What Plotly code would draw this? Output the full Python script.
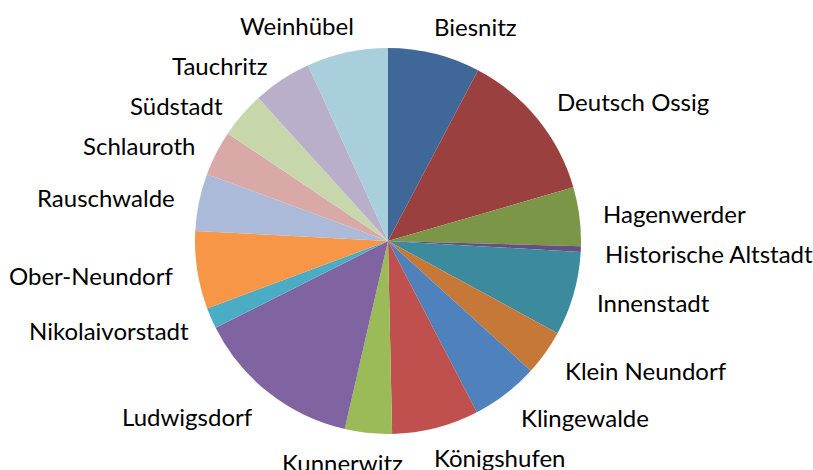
import math
import plotly.graph_objects as go

# ---- data (area share of Görlitz districts) ----
districts = ["Biesnitz", "Deutsch Ossig", "Hagenwerder", "Historische Altstadt",
             "Innenstadt", "Klein Neundorf", "Klingewalde", "Königshufen",
             "Kunnerwitz", "Ludwigsdorf", "Nikolaivorstadt", "Ober-Neundorf",
             "Rauschwalde", "Schlauroth", "Südstadt", "Tauchritz", "Weinhübel"]
areas = [5.21, 8.63, 3.32, 0.32, 4.74, 2.57, 3.81, 4.91,
         2.66, 9.43, 1.18, 4.39, 3.24, 2.55, 2.61, 3.32, 4.59]
colors = ["#3F6797", "#9A403E", "#7C9647", "#665082", "#3C8A9E", "#C67838",
          "#4F81BD", "#C0504D", "#9BBB59", "#8064A2", "#4BACC6", "#F79646",
          "#AABAD8", "#D9A9A8", "#C7D6AB", "#BAAFCB", "#A9CEDC"]

# ---- layout geometry (pixels) ----
W, H = 813, 470
CX, CY, R = 388, 241, 193
GAP_X, GAP_Y = 22, 29
FONT = "Lato"
FSIZE = 24
MIN_GAP = 40


def est_width(t):
    return len(t) * 0.5 * FSIZE


fig = go.Figure(go.Pie(
    labels=districts, values=areas, sort=False, direction="clockwise",
    rotation=0, textinfo="none", showlegend=False,
    marker=dict(colors=colors, line=dict(color="white", width=0)),
    domain=dict(x=[0, (2 * CX) / W],
                y=[1 - (CY + R) / H, 1 - (CY - R) / H]),
))

total = sum(areas)
cum = 0.0
items = []
for name, v in zip(districts, areas):
    mid = (cum + v / 2) / total * 2 * math.pi
    cum += v
    s, c = math.sin(mid), math.cos(mid)
    px = CX + (R + GAP_X) * s
    py = CY - (R + GAP_Y) * c + 1
    f = max(0.0, 0.5 - 1.75 * abs(s))
    w = est_width(name)
    if s >= 0:
        x, anchor = px - w * f, "left"
    else:
        x, anchor = px + w * f, "right"
    items.append(dict(name=name, x=x, y=py, anchor=anchor, side=(s >= 0)))

# simple overlap avoidance per side
for side in (True, False):
    grp = sorted([it for it in items if it["side"] == side], key=lambda d: d["y"])
    for a, b in zip(grp, grp[1:]):
        if b["y"] - a["y"] < MIN_GAP:
            b["y"] = a["y"] + MIN_GAP

for it in items:
    fig.add_annotation(
        text=it["name"], x=it["x"] / W, y=1 - it["y"] / H,
        xref="paper", yref="paper", xanchor=it["anchor"], yanchor="middle",
        showarrow=False, font=dict(family=FONT, size=FSIZE, color="#000000"))

fig.update_layout(
    width=W, height=H, margin=dict(l=0, r=0, t=0, b=0),
    paper_bgcolor="white", plot_bgcolor="white",
)

fig.write_html("out.html", config={"displayModeBar": False},
               post_script="document.body.style.margin='0';document.body.style.overflow='hidden';")
